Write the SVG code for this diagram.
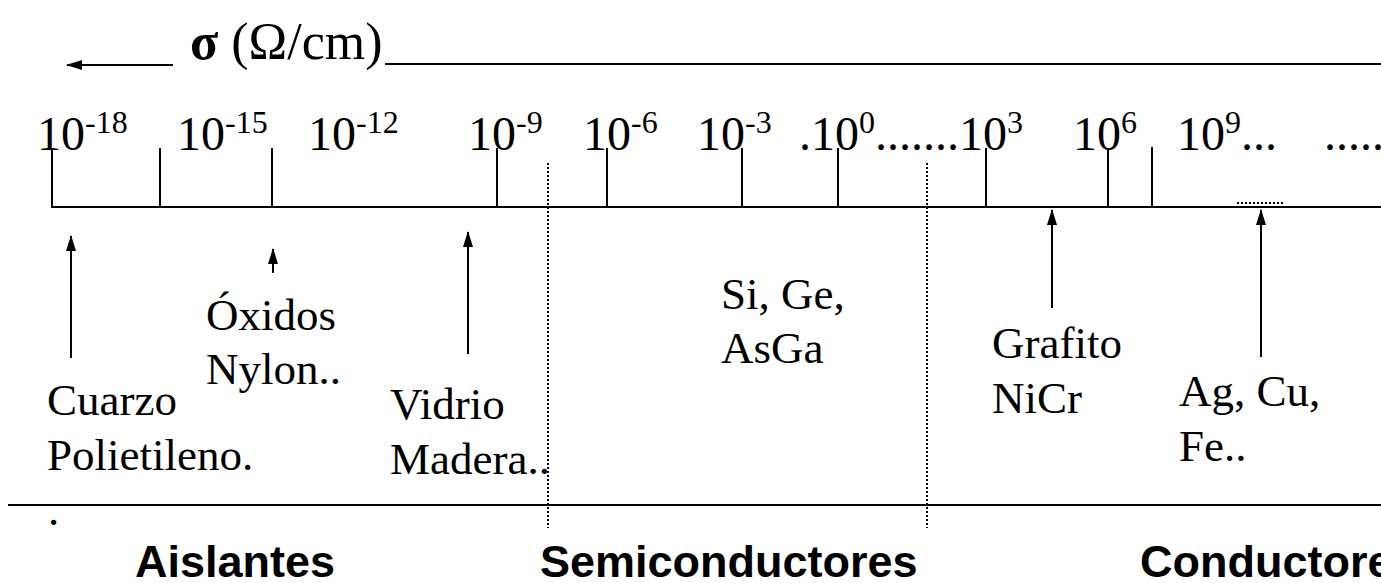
<svg xmlns="http://www.w3.org/2000/svg" width="1381" height="583" viewBox="0 0 1381 583">
<defs>
<marker id="ah" markerWidth="16" markerHeight="12" refX="15" refY="6" orient="auto" markerUnits="userSpaceOnUse" viewBox="0 0 16 12">
<path d="M16 6 L0 1 L0 11 Z" fill="#000"/>
</marker>
<style>
.ln{stroke:#000;stroke-width:2;fill:none}
.dot{stroke:#000;stroke-width:2;stroke-dasharray:2 2;fill:none}
.t{font-size:45px;fill:#000}
.tk{font-size:48px;fill:#000}
.sup{font-size:32px}
.h{font-size:45px;font-weight:bold;fill:#000}
</style>
</defs>
<rect width="1381" height="583" fill="#fff"/>
<g font-family="Liberation Serif, Times New Roman, DejaVu Serif, serif">
<g id="title">
<text x="190" y="59" font-size="52" fill="#000"><tspan font-weight="bold">σ</tspan> (Ω/cm)</text>
</g>
<g id="ticklabels">
<text class="tk" x="37" y="150">10<tspan class="sup" dy="-17">-18</tspan></text>
<text class="tk" x="177" y="150">10<tspan class="sup" dy="-17">-15</tspan></text>
<text class="tk" x="308" y="150">10<tspan class="sup" dy="-17">-12</tspan></text>
<text class="tk" x="468" y="150">10<tspan class="sup" dy="-17">-9</tspan></text>
<text class="tk" x="583" y="150">10<tspan class="sup" dy="-17">-6</tspan></text>
<text class="tk" x="697" y="150">10<tspan class="sup" dy="-17">-3</tspan></text>
<text class="tk" x="799" y="150">.10<tspan class="sup" dy="-17">0</tspan><tspan dy="17">......</tspan></text>
<text class="tk" x="947" y="150">.10<tspan class="sup" dy="-17">3</tspan></text>
<text class="tk" x="1073" y="150">10<tspan class="sup" dy="-17">6</tspan></text>
<text class="tk" x="1177" y="150">10<tspan class="sup" dy="-17">9</tspan><tspan dy="17">...</tspan></text>
<text class="tk" x="1324" y="150">.....</text>
</g>
<g id="cuarzo"><text class="t" x="47" y="415">Cuarzo</text><text class="t" x="47" y="470">Polietileno.</text><text class="t" x="48" y="525">.</text></g>
<g id="oxidos"><text class="t" x="206" y="330">Óxidos</text><text class="t" x="206" y="384">Nylon..</text></g>
<g id="vidrio"><text class="t" x="390" y="419">Vidrio</text><text class="t" x="390" y="474">Madera..</text></g>
<g id="si"><text class="t" x="721" y="309">Si, Ge,</text><text class="t" x="721" y="363">AsGa</text></g>
<g id="grafito"><text class="t" x="992" y="358">Grafito</text><text class="t" x="992" y="413">NiCr</text></g>
<g id="ag"><text class="t" x="1179" y="406">Ag, Cu,</text><text class="t" x="1179" y="461">Fe..</text></g>
</g>
<g id="axis">
<line class="ln" x1="51" y1="207" x2="1381" y2="207"/>
<line class="ln" x1="52" y1="148" x2="52" y2="207"/>
<line class="ln" x1="160" y1="148" x2="160" y2="207"/>
<line class="ln" x1="272" y1="148" x2="272" y2="207"/>
<line class="ln" x1="497" y1="148" x2="497" y2="207"/>
<line class="ln" x1="607" y1="148" x2="607" y2="207"/>
<line class="ln" x1="742" y1="148" x2="742" y2="207"/>
<line class="ln" x1="838" y1="148" x2="838" y2="207"/>
<line class="ln" x1="986" y1="148" x2="986" y2="207"/>
<line class="ln" x1="1108" y1="148" x2="1108" y2="207"/>
<line class="ln" x1="1152" y1="147" x2="1152" y2="207"/>
<line class="dot" x1="1237" y1="203" x2="1285" y2="203"/>
</g>
<g id="connectors">
<line class="ln" x1="173" y1="65" x2="67" y2="65" marker-end="url(#ah)"/>
<line class="ln" x1="385" y1="64" x2="1381" y2="64"/>
<line class="ln" x1="8" y1="505" x2="1381" y2="505"/>
<line class="dot" x1="548" y1="163" x2="548" y2="528"/>
<line class="dot" x1="927" y1="163" x2="927" y2="528"/>
<line class="ln" x1="71" y1="358" x2="71" y2="236" marker-end="url(#ah)"/>
<line class="ln" x1="273" y1="273" x2="273" y2="249" marker-end="url(#ah)"/>
<line class="ln" x1="468" y1="354" x2="468" y2="232" marker-end="url(#ah)"/>
<line class="ln" x1="1052" y1="308" x2="1052" y2="210" marker-end="url(#ah)"/>
<line class="ln" x1="1261" y1="357" x2="1261" y2="210" marker-end="url(#ah)"/>
</g>
<g id="categories" font-family="Liberation Sans, Arial, sans-serif">
<text class="h" x="135" y="577">Aislantes</text>
<text class="h" x="540" y="577">Semiconductores</text>
<text class="h" x="1140" y="577">Conductores</text>
</g>
</svg>
